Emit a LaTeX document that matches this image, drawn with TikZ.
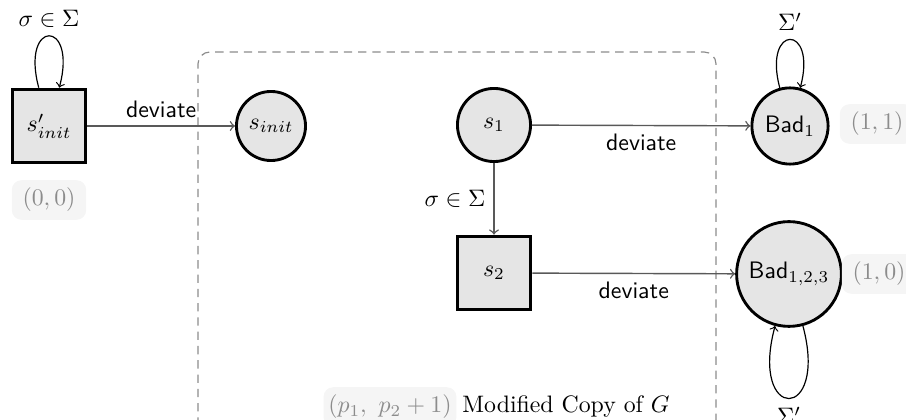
\documentclass[tikz,border=0pt]{standalone}
\usetikzlibrary{arrows}
\begin{document}
\begin{tikzpicture}[x=0.42pt,y=0.42pt,
  state/.style={draw=black,line width=1.2pt,fill=black!10,inner sep=1pt},
  sqstate/.style={state,rectangle,minimum size=31pt},
  crstate/.style={state,circle},
  coord/.style={rounded corners=4pt,fill=black!4,text=black!45,inner xsep=4.5pt,inner ysep=3.3pt},
  edge/.style={->,draw=black!65,line width=0.6pt},
  selfloop/.style={->,draw=black,line width=0.5pt},
  dlabel/.style={font=\sffamily}
]
\useasboundingbox (0,0) rectangle (906,420);
\clip (0,0) rectangle (906,420);

% dashed container
\draw[black!45,line width=0.5pt,dash pattern=on 3.5pt off 2.5pt,rounded corners=5pt]
  (198,-20) -- (198,368) -- (716,368) -- (716,-20);

\node[sqstate] (sp) at (49,294) {$s'_{init}$};
\node[crstate,minimum size=29pt] (si) at (271,294) {$s_{init}$};
\node[crstate,minimum size=30.7pt] (s1) at (494,295) {$s_1$};
\node[sqstate] (s2) at (494,147) {$s_2$};
\node[crstate,minimum size=32pt] (b1) at (790,294) {\textsf{Bad}$_1$};
\node[crstate,minimum size=44pt] (b123) at (789,146) {\textsf{Bad}$_{1,2,3}$};

\node[coord] (l00) at (49,220) {$(0,0)$};
\node[coord] (l11) at (877,296) {$(1,1)$};
\node[coord] (l10) at (879,146) {$(1,0)$};

\node[coord,inner xsep=2pt] (lp) at (390,13) {$(p_1,\ p_2+1)$};
\node (mod) at (566,13) {Modified Copy of $G$};

\draw[edge] (sp) -- node[above,dlabel] {deviate} (si);
\draw[edge] (s1) -- node[below,dlabel] {deviate} (b1);
\draw[edge] (s2) -- node[below,dlabel] {deviate} (b123);
\draw[edge] (s1) -- node[left] {$\sigma\in\Sigma$} (s2);

\draw[selfloop] (sp) to[out=105,in=75,distance=30pt] node[above] {$\sigma\in\Sigma$} (sp);
\draw[selfloop] (b1) to[out=105,in=75,distance=28pt] node[above] {$\Sigma'$} (b1);
\draw[selfloop] (b123) to[out=285,in=255,distance=42pt] node[below] {$\Sigma'$} (b123);
\end{tikzpicture}
\end{document}
